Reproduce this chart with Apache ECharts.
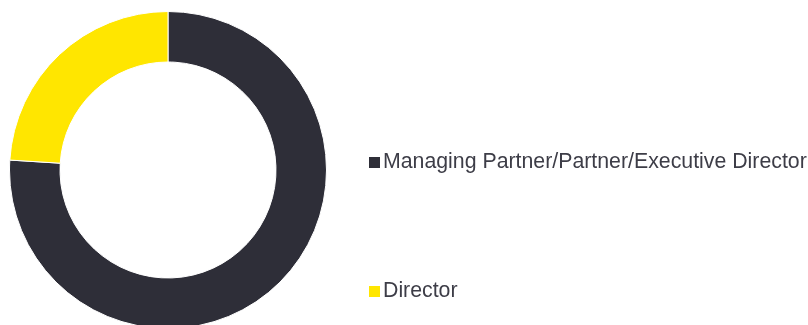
<!DOCTYPE html>
<html>
<head>
<meta charset="utf-8">
<script src="https://cdn.jsdelivr.net/npm/echarts@6/dist/echarts.min.js"></script>
<style>
html,body{margin:0;padding:0;background:#fff;}
#chart{width:808px;height:325px;}
</style>
</head>
<body>
<div id="chart"></div>
<script>
const categories = ['Managing Partner/Partner/Executive Director', 'Director'];
const values = [76, 24];
const colors = ['#2e2e38', '#ffe600'];

const chart = echarts.init(document.getElementById('chart'), null, {renderer: 'canvas'});
chart.setOption({
  animation: false,
  color: colors,
  legend: {
    orient: 'vertical',
    left: 362,
    top: 147,
    itemWidth: 13,
    itemHeight: 13,
    itemGap: 108,
    icon: 'rect',
    selectedMode: false,
    textStyle: {
      fontFamily: 'Liberation Sans, Arial, sans-serif',
      fontSize: 21.3,
      lineHeight: 21,
      color: '#3d3d47',
      padding: [0, 0, 0, -3]
    },
    data: categories
  },
  series: [{
    type: 'pie',
    center: [168, 170],
    radius: [108, 158.5],
    startAngle: 90,
    clockwise: true,
    label: {show: false},
    labelLine: {show: false},
    emphasis: {disabled: true},
    itemStyle: {borderColor: '#ffffff', borderWidth: 1},
    data: categories.map((c, i) => ({name: c, value: values[i]}))
  }]
});
</script>
</body>
</html>
